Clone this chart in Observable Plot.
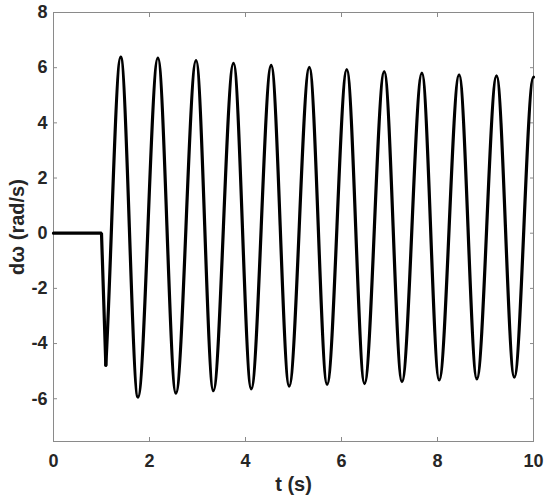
<!DOCTYPE html>
<html><head><meta charset="utf-8">
<script src="https://cdn.jsdelivr.net/npm/d3@7"></script>
<script src="https://cdn.jsdelivr.net/npm/@observablehq/plot@0.6"></script>
<style>body{margin:0;background:#fff} svg{display:block}</style>
</head><body><div id="chart"></div>
<script>
// axis ticks
const xTicks = [0, 2, 4, 6, 8, 10];
const yTicks = [-6, -4, -2, 0, 2, 4, 6, 8];
const xLabel = "t (s)";
const yLabel = "dω (rad/s)";

// pre-disturbance segment and the sharp drop
const onsetT = [0, 1.0, 1.09];
const onsetW = [0, 0, -4.78];

// oscillation: successive extrema (t in s, dω in rad/s)
const oscT = [1.09, 1.40, 1.76, 2.175, 2.55, 2.97, 3.33, 3.75, 4.12, 4.535, 4.91, 5.33,
              5.70, 6.11, 6.48, 6.89, 7.26, 7.675, 8.035, 8.45, 8.82, 9.23, 9.60, 10.0];
const oscW = [-4.78, 6.38, -5.94, 6.35, -5.80, 6.26, -5.71, 6.16, -5.64, 6.08, -5.54, 6.01,
              -5.48, 5.93, -5.45, 5.86, -5.38, 5.80, -5.32, 5.74, -5.28, 5.70, -5.22, 5.66];

const onset = onsetT.map((t, i) => ({t, w: onsetW[i]}));
const osc = oscT.map((t, i) => ({t, w: oscW[i]}));

// smooth curve through extrema: flat tangents at each extremum,
// steep departure from the initial cusp
function extremaCurve(context) {
  let pts = [];
  return {
    areaStart() {}, areaEnd() {},
    lineStart() { pts = []; },
    point(x, y) { pts.push([+x, +y]); },
    lineEnd() {
      if (!pts.length) return;
      context.moveTo(pts[0][0], pts[0][1]);
      for (let i = 1; i < pts.length; i++) {
        const [x0, y0] = pts[i - 1], [x1, y1] = pts[i], h = x1 - x0;
        const k = i === 1 ? 0.83 : 0;
        context.bezierCurveTo(x0 + h / 3, y0 + k * (y1 - y0) / 3, x1 - h / 3, y1, x1, y1);
      }
    }
  };
}

const axisColor = "#262626";
const frameColor = "#8a8a8a";
const fmt = d => String(d); // plain hyphen minus, as in the reference

const chart = Plot.plot({
  width: 550,
  height: 501,
  marginLeft: 53,
  marginRight: 17,
  marginTop: 12,
  marginBottom: 60,
  style: {fontFamily: "'Liberation Sans', Arial, sans-serif", fontWeight: "bold", color: axisColor, background: "#fff"},
  x: {domain: [0, 10]},
  y: {domain: [-7.55, 8]},
  marks: [
    Plot.frame({stroke: frameColor, strokeWidth: 1}),
    Plot.axisX({anchor: "bottom", ticks: xTicks, tickSize: -4, tickPadding: 17, stroke: frameColor, fontSize: 18, tickFormat: fmt, label: null}),
    Plot.axisX({anchor: "top", ticks: xTicks, tickSize: -4, stroke: frameColor, tickFormat: () => "", label: null}),
    Plot.axisY({anchor: "left", ticks: yTicks, tickSize: -4, tickPadding: 10, stroke: frameColor, fontSize: 18, tickFormat: fmt, label: null}),
    Plot.axisY({anchor: "right", ticks: yTicks, tickSize: -4, stroke: frameColor, tickFormat: () => "", label: null}),
    Plot.axisX({anchor: "bottom", ticks: [], label: xLabel, labelAnchor: "center", labelArrow: "none", labelOffset: 49, fontSize: 20}),
    Plot.axisY({anchor: "left", ticks: [], label: yLabel, labelAnchor: "center", labelArrow: "none", labelOffset: 44, fontSize: 20}),
    Plot.line(onset, {x: "t", y: "w", stroke: "black", strokeWidth: 3.2, strokeLinejoin: "miter"}),
    Plot.line(osc, {x: "t", y: "w", stroke: "black", strokeWidth: 3.2, curve: extremaCurve})
  ]
});
document.getElementById("chart").appendChild(chart);
</script>
</body></html>
